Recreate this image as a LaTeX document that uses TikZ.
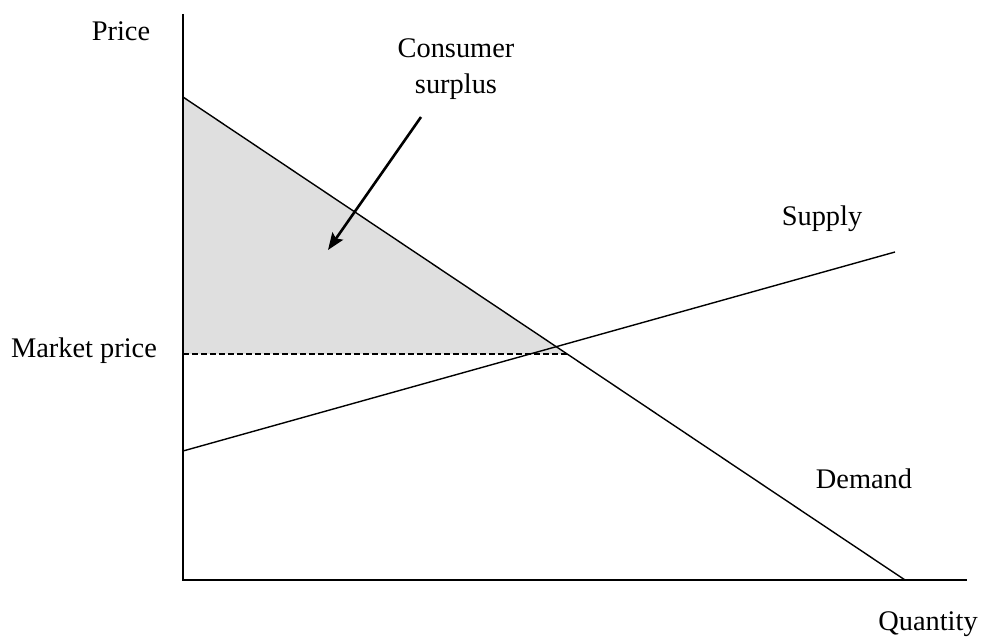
\documentclass[tikz,border=0pt]{standalone}
\usepackage{fontspec}
\setmainfont{Liberation Serif}
\usetikzlibrary{arrows.meta, positioning}

\begin{document}
\begin{tikzpicture}[x=1pt, y=-1pt,
          label/.style={font=\fontsize{28.4}{34}\selectfont, anchor=base, inner sep=0pt},
          curve/.style={line width=1.4pt, color=black},
          axis/.style={line width=1.6pt, color=black},
          priceline/.style={line width=2pt, dash pattern=on 6pt off 3pt},
          arrow/.style={-{Stealth[length=17pt, width=13pt, inset=3pt]}, line width=2.6pt}]

        \useasboundingbox (0,0) rectangle (984,642);

        % axes and curve ends
        \coordinate (o) at (183,580);
        \coordinate (ytop) at (183,14);
        \coordinate (xend) at (967,580);
        \coordinate (dtop) at (183,97);
        \coordinate (dend) at (905,580);
        \coordinate (sstart) at (183,451);
        \coordinate (send) at (895,252);
        \coordinate (eq) at (567,354);
        \coordinate (mp) at (183,354);

        \fill [gray!25] (dtop) -- (eq) -- (mp) -- cycle;

        \draw [axis] (ytop) -- (o) -- (xend);
        \draw [curve] (dtop) -- (dend);
        \draw [curve] (sstart) -- (send);
        \draw [priceline] (mp) -- (eq);

        \node [label] (price) at (121,41) {Price};
        \node [label] (cs1) at (456,58) {Consumer};
        \node [label] (cs2) at (456,93) {surplus};
        \node [label] (supply) at (822,225) {Supply};
        \node [label] (mprice) at (84,357) {Market price};
        \node [label] (demand) at (864,488) {Demand};
        \node [label] (quantity) at (928,630) {Quantity};

        \coordinate (tail) at (421,117);
        \coordinate (head) at (328,250);
        \draw [arrow] (tail) -- (head);
      \end{tikzpicture}
\end{document}
